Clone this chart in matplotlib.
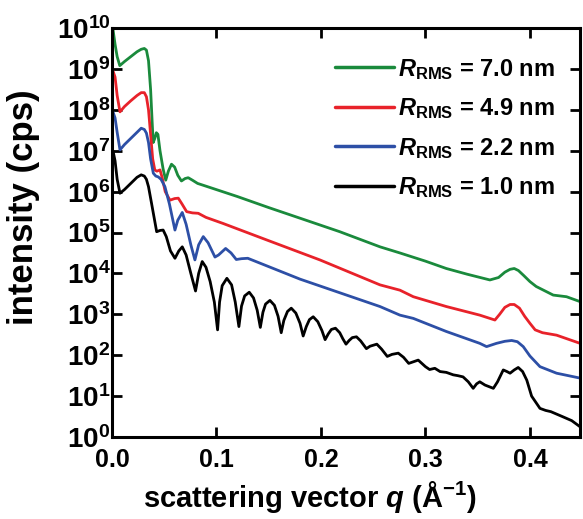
import numpy as np
import matplotlib
matplotlib.use("Agg")
import matplotlib.pyplot as plt

plt.rcParams['font.family'] = ['Liberation Sans', 'DejaVu Sans']
plt.rcParams['font.weight'] = 'bold'
plt.rcParams['mathtext.fontset'] = 'custom'
plt.rcParams['mathtext.rm'] = 'Liberation Sans:bold'
plt.rcParams['mathtext.it'] = 'Liberation Sans:bold:italic'
plt.rcParams['mathtext.bf'] = 'Liberation Sans:bold'

# ---- data (q in 1/Angstrom, log10 of intensity in cps) ----
q_green = [0.001, 0.003, 0.005, 0.0075, 0.012, 0.018, 0.024, 0.028, 0.031, 0.033, 0.035, 0.037,
           0.0385, 0.0395, 0.041, 0.0425, 0.044, 0.046, 0.049, 0.0515, 0.054, 0.057, 0.060, 0.063,
           0.0665, 0.070, 0.073, 0.077, 0.082, 0.088, 0.12, 0.15, 0.18, 0.218, 0.2565, 0.2756,
           0.300, 0.320, 0.340, 0.3617, 0.370, 0.376, 0.381, 0.385, 0.389, 0.394, 0.400, 0.406,
           0.4223, 0.435, 0.448]
logI_green = [9.97, 9.6, 9.3, 9.08, 9.18, 9.3, 9.42, 9.48, 9.5, 9.46, 9.2, 8.5,
              7.7, 7.2, 7.3, 7.44, 7.4, 7.0, 6.55, 6.28, 6.5, 6.67, 6.6, 6.4,
              6.26, 6.32, 6.34, 6.28, 6.2, 6.15, 5.88, 5.61, 5.35, 5.02, 4.65, 4.50,
              4.30, 4.12, 3.98, 3.84, 3.90, 4.03, 4.10, 4.12, 4.07, 3.95, 3.80, 3.68,
              3.47, 3.43, 3.31]

q_red = [0.001, 0.003, 0.005, 0.0077, 0.012, 0.018, 0.024, 0.028, 0.031, 0.033, 0.035, 0.037,
         0.039, 0.041, 0.043, 0.046, 0.048, 0.051, 0.0555, 0.060, 0.0635, 0.067, 0.0715, 0.077,
         0.0826, 0.09, 0.1065, 0.15, 0.199, 0.2565, 0.2756, 0.2884, 0.320, 0.352, 0.3665,
         0.371, 0.376, 0.381, 0.385, 0.390, 0.395, 0.400, 0.405, 0.412, 0.4255, 0.448]
logI_red = [8.95, 8.8, 8.35, 7.95, 8.08, 8.22, 8.35, 8.42, 8.42, 8.32, 8.0, 7.4,
            6.8, 6.53, 6.5, 6.53, 6.35, 6.0, 5.79, 5.83, 5.84, 5.7, 5.51, 5.48,
            5.47, 5.37, 5.22, 4.8, 4.33, 3.72, 3.59, 3.43, 3.19, 2.98, 2.86,
            3.0, 3.17, 3.24, 3.24, 3.15, 2.95, 2.78, 2.62, 2.55, 2.49, 2.29]

q_blue = [0.001, 0.003, 0.005, 0.0077, 0.012, 0.018, 0.024, 0.028, 0.031, 0.033, 0.035, 0.037,
          0.0396, 0.042, 0.0443, 0.047, 0.0507, 0.055, 0.0603, 0.063, 0.0673, 0.071, 0.0755,
          0.0794, 0.083, 0.0874, 0.092, 0.0986, 0.102, 0.1088, 0.114, 0.119, 0.124, 0.130,
          0.18, 0.2565, 0.2756, 0.2884, 0.320, 0.352, 0.3585, 0.368, 0.376, 0.3825, 0.388,
          0.3936, 0.400, 0.4096, 0.4255, 0.448]
logI_blue = [7.95, 7.8, 7.45, 7.02, 7.15, 7.3, 7.45, 7.55, 7.52, 7.43, 7.2, 6.8,
             6.45, 6.38, 6.36, 6.3, 6.12, 5.7, 5.06, 5.3, 5.49, 5.2, 4.7,
             4.33, 4.7, 4.90, 4.75, 4.40, 4.45, 4.61, 4.5, 4.34, 4.36, 4.37,
             3.86, 3.19, 2.98, 2.90, 2.58, 2.29, 2.21, 2.29, 2.34, 2.36, 2.33,
             2.21, 1.98, 1.72, 1.56, 1.44]

q_black = [0.001, 0.003, 0.005, 0.0077, 0.012, 0.018, 0.024, 0.028, 0.031, 0.033, 0.035, 0.038,
           0.0428, 0.046, 0.049, 0.052, 0.056, 0.0603, 0.064, 0.0673, 0.071, 0.0755, 0.080,
           0.083, 0.0864, 0.090, 0.094, 0.098, 0.1011, 0.103, 0.1055, 0.110, 0.1145, 0.118,
           0.1215, 0.124, 0.127, 0.1314, 0.1355, 0.139, 0.142, 0.1445, 0.147, 0.1512, 0.1555,
           0.159, 0.162, 0.1645, 0.168, 0.1716, 0.176, 0.180, 0.183, 0.186, 0.189, 0.1926,
           0.197, 0.201, 0.204, 0.207, 0.210, 0.2139, 0.218, 0.221, 0.224, 0.227, 0.230, 0.234,
           0.238, 0.2435, 0.247, 0.2535, 0.258, 0.2635, 0.268, 0.274, 0.279, 0.284, 0.2931,
           0.300, 0.304, 0.309, 0.314, 0.320, 0.3266, 0.331, 0.336, 0.341, 0.3457, 0.349, 0.352,
           0.357, 0.362, 0.365, 0.369, 0.3745, 0.378, 0.381, 0.385, 0.3888, 0.393, 0.397,
           0.4016, 0.4096, 0.415, 0.420, 0.431, 0.440, 0.448]
logI_black = [7.0, 6.75, 6.3, 5.96, 6.05, 6.2, 6.35, 6.41, 6.38, 6.3, 6.12, 5.7,
              5.02, 5.05, 5.06, 4.9, 4.55, 4.37, 4.55, 4.65, 4.45, 4.0, 3.57,
              4.0, 4.29, 4.15, 3.8, 3.3, 2.62, 3.3, 3.7, 3.88, 3.72, 3.3,
              2.70, 3.2, 3.45, 3.54, 3.4, 3.1, 2.68, 3.05, 3.25, 3.34, 3.22,
              2.95, 2.55, 2.85, 3.07, 3.15, 3.03, 2.78, 2.47, 2.7, 2.87, 2.94,
              2.82, 2.6, 2.38, 2.52, 2.63, 2.66, 2.55, 2.4, 2.27, 2.36, 2.43, 2.45,
              2.35, 2.16, 2.22, 2.27, 2.15, 1.97, 2.02, 2.05, 1.95, 1.80, 1.88,
              1.72, 1.65, 1.68, 1.60, 1.58, 1.52, 1.50, 1.47, 1.35, 1.19, 1.30, 1.35,
              1.27, 1.22, 1.19, 1.35, 1.64, 1.60, 1.56, 1.64, 1.70, 1.60, 1.39,
              1.00, 0.70, 0.65, 0.62, 0.50, 0.40, 0.25]

labels = [r'$\it{R}_{\rm{RMS}}$ = 7.0 nm', r'$\it{R}_{\rm{RMS}}$ = 4.9 nm',
          r'$\it{R}_{\rm{RMS}}$ = 2.2 nm', r'$\it{R}_{\rm{RMS}}$ = 1.0 nm']
colors = ['#1a8a3c', '#e8222a', '#2d4fa6', '#000000']
series = [(q_green, logI_green), (q_red, logI_red), (q_blue, logI_blue), (q_black, logI_black)]

xticks = [0.0, 0.1, 0.2, 0.3, 0.4]
ydecades = list(range(0, 11))

fig = plt.figure(figsize=(5.83, 5.19), dpi=100)
ax = fig.add_axes([0.192, 0.158, 0.803, 0.788])

for (q, lg), c, lab in zip(series, colors, labels):
    ax.plot(q, 10 ** np.array(lg), color=c, lw=2.0, label=lab,
            solid_joinstyle='round', solid_capstyle='round')

ax.set_yscale('log')
ax.set_xlim(0, 0.448)
ax.set_ylim(1, 1e10)
ax.set_xticks(xticks)
ax.set_xticklabels([f'{t:.1f}' for t in xticks])
ax.set_yticks([10.0 ** d for d in ydecades])
ax.set_yticklabels([r'$\mathrm{10^{%d}}$' % d for d in ydecades])
ax.yaxis.set_minor_locator(matplotlib.ticker.NullLocator())

ax.tick_params(axis='both', which='major', direction='in', length=7, width=2,
               top=True, right=True)
ax.tick_params(axis='x', labelsize=18, pad=8)
ax.tick_params(axis='y', labelsize=20, pad=1)
for lab in ax.get_xticklabels() + ax.get_yticklabels():
    lab.set_fontweight('bold')
for s in ax.spines.values():
    s.set_linewidth(2.2)

ax.set_xlabel(r'scattering vector $\it{q}$ (Å$^{\rm{-1}}$)', fontsize=21, fontweight='bold')
ax.xaxis.set_label_coords(0.423, -0.103)
ax.set_ylabel('intensity (cps)', fontsize=25, fontweight='bold')
ax.yaxis.set_label_coords(-0.154, 0.562)

leg = ax.legend(loc='upper right', bbox_to_anchor=(0.947, 0.93), frameon=False, fontsize=17,
                handlelength=2.5, handletextpad=0.2, labelspacing=0.62,
                borderaxespad=0.0, borderpad=0.0)
for h in leg.get_lines():
    h.set_linewidth(2.5)

fig.savefig('out.png', dpi=100)
